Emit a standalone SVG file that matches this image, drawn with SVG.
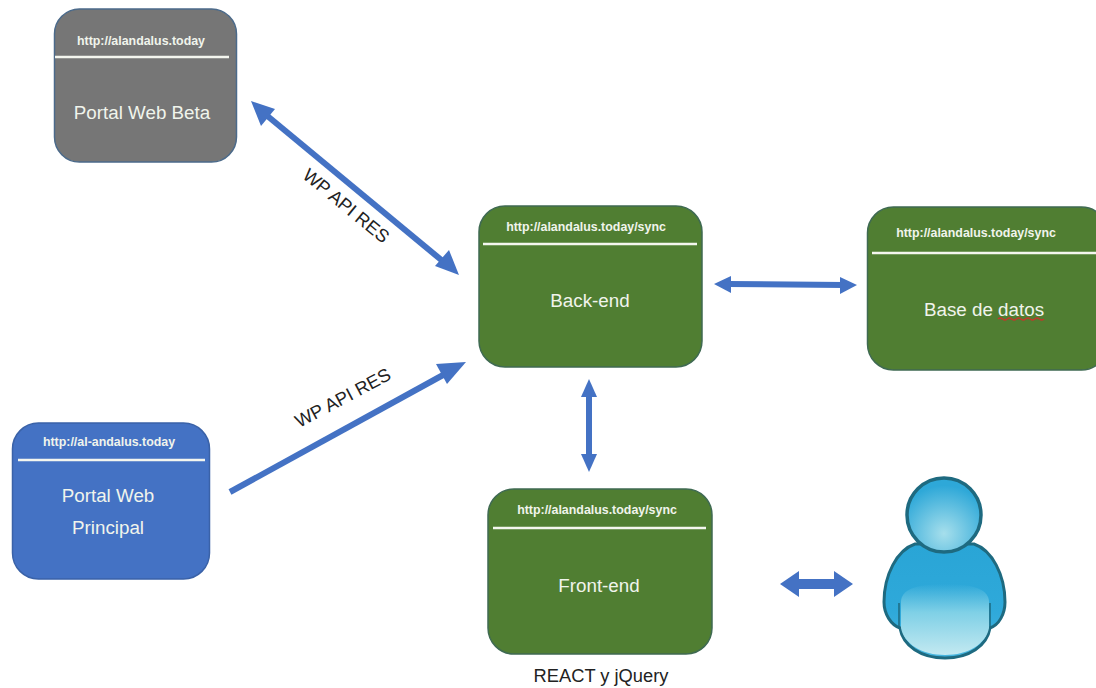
<svg xmlns="http://www.w3.org/2000/svg" width="1096" height="688" viewBox="0 0 1096 688">
<style>
text{font-family:"Liberation Sans",Arial,sans-serif;text-anchor:middle}
.u{font-size:12.400px;font-weight:bold;fill:#f0f4ec}
.t{font-size:18.800px;fill:#f0f4ec}
.l{font-size:18.300px;fill:#222}
.rule{stroke:#f4f6ef;stroke-width:2.5;fill:none}
.g{fill:#507e32;stroke:#3f6a52;stroke-width:1.5}
.c{stroke:#4472c4;stroke-width:6;fill:none}
.h{fill:#4472c4}
</style>
<defs>
<linearGradient id="body" x1="0" y1="0" x2="0" y2="1"><stop offset="0" stop-color="#29a5d6"/><stop offset="0.6" stop-color="#2fa9da"/><stop offset="1" stop-color="#48b6df"/></linearGradient>
<radialGradient id="head" cx="0.5" cy="0.75" r="0.65"><stop offset="0" stop-color="#a6dfec"/><stop offset="1" stop-color="#2ea8d8"/></radialGradient>
<radialGradient id="chest" gradientUnits="userSpaceOnUse" cx="945" cy="640" r="70"><stop offset="0" stop-color="#c8ebf2"/><stop offset="0.6" stop-color="#80d0e6"/><stop offset="1" stop-color="#5cc0e0" stop-opacity="0.700"/></radialGradient>
<linearGradient id="fade" x1="0" y1="0" x2="0" y2="1"><stop offset="0" stop-color="#7fd0e6" stop-opacity="0"/><stop offset="0.4" stop-color="#7fd0e6"/><stop offset="1" stop-color="#c3e9f1"/></linearGradient>
</defs>
<g id="connectors">
<line class="c" x1="259" y1="109" x2="451" y2="268"/>
<polygon class="h" points="251,101 275,109 261,126"/>
<polygon class="h" points="459,275 435,266 449,250"/>
<line class="c" x1="230" y1="492" x2="454" y2="369"/>
<polygon class="h" points="466,362 447,384 436,364"/>
<line class="c" x1="728" y1="284" x2="844" y2="285"/>
<polygon class="h" points="714,284 731,276 731,293"/>
<polygon class="h" points="857,285 840,277 840,294"/>
<line class="c" x1="589" y1="392" x2="589" y2="460"/>
<polygon class="h" points="589,379 581,397 597,397"/>
<polygon class="h" points="589,472 581,454 597,454"/>
<line x1="795" y1="584" x2="840" y2="584" stroke="#4472c4" stroke-width="10"/>
<polygon class="h" points="780,584 799,571 799,597"/>
<polygon class="h" points="853,584 834,571 834,597"/>
<text class="l" transform="translate(346 206) rotate(39.500)" y="6">WP API RES</text>
<text class="l" transform="translate(343 398) rotate(-28)" y="6">WP API RES</text>
</g>
<g id="portal-beta">
<rect x="54.500" y="9" width="182" height="153" rx="25" fill="#767676" stroke="#4b6a8a" stroke-width="1.500"/>
<text class="u" x="141" y="45">http://alandalus.today</text>
<line class="rule" x1="55" y1="57" x2="229" y2="57"/>
<text class="t" x="142" y="119">Portal Web Beta</text>
</g>
<g id="portal-principal">
<rect x="12.500" y="423" width="197" height="156" rx="26" fill="#4472c4" stroke="#3a62a8" stroke-width="1.500"/>
<text class="u" x="109" y="446">http://al-andalus.today</text>
<line class="rule" x1="18" y1="460" x2="205" y2="460"/>
<text class="t" x="108" y="502">Portal Web</text>
<text class="t" x="108" y="534">Principal</text>
</g>
<g id="back-end">
<rect class="g" x="479" y="206" width="223" height="161" rx="26"/>
<text class="u" x="586" y="231">http://alandalus.today/sync</text>
<line class="rule" x1="483" y1="244" x2="697" y2="244"/>
<text class="t" x="590" y="307">Back-end</text>
</g>
<g id="base-datos">
<rect class="g" x="867.500" y="207" width="240" height="163" rx="26"/>
<text class="u" x="976" y="237">http://alandalus.today/sync</text>
<line class="rule" x1="872" y1="253" x2="1096" y2="253"/>
<text class="t" x="984" y="316">Base de datos</text>
<path d="M998 319q2.300-2 4.600 0t4.600 0 4.600 0 4.600 0 4.600 0 4.600 0 4.600 0 4.600 0 4.600 0 4.600 0" fill="none" stroke="#c0392b" stroke-width="1.500"/>
</g>
<g id="front-end">
<rect class="g" x="488" y="489" width="224" height="165" rx="26"/>
<text class="u" x="597" y="514">http://alandalus.today/sync</text>
<line class="rule" x1="493" y1="528" x2="706" y2="528"/>
<text class="t" x="599" y="592">Front-end</text>
<text x="601" y="682" font-size="18.300" fill="#222">REACT y jQuery</text>
</g>
<g id="user">
<path d="M915 544C897 550 884 575 884 602C884 614 891 625 900 628C903 646 921 658 945 658C969 658 987 646 990 628C999 625 1005 614 1005 602C1005 575 992 550 974 544Z" fill="url(#body)" stroke="#1e6a80" stroke-width="3"/>
<path d="M901 602C901 610 901 620 901 628C904 644 922 655 945 655C968 655 986 644 989 628V602C989 590 975 584 945 584C915 584 901 590 901 602Z" fill="url(#fade)"/>
<path d="M899 603V628M990 603V628" stroke="#1e6a80" stroke-width="1.500" fill="none"/>
<circle cx="944" cy="515" r="37" fill="url(#head)" stroke="#1e6a80" stroke-width="3.500"/>
</g>
</svg>
